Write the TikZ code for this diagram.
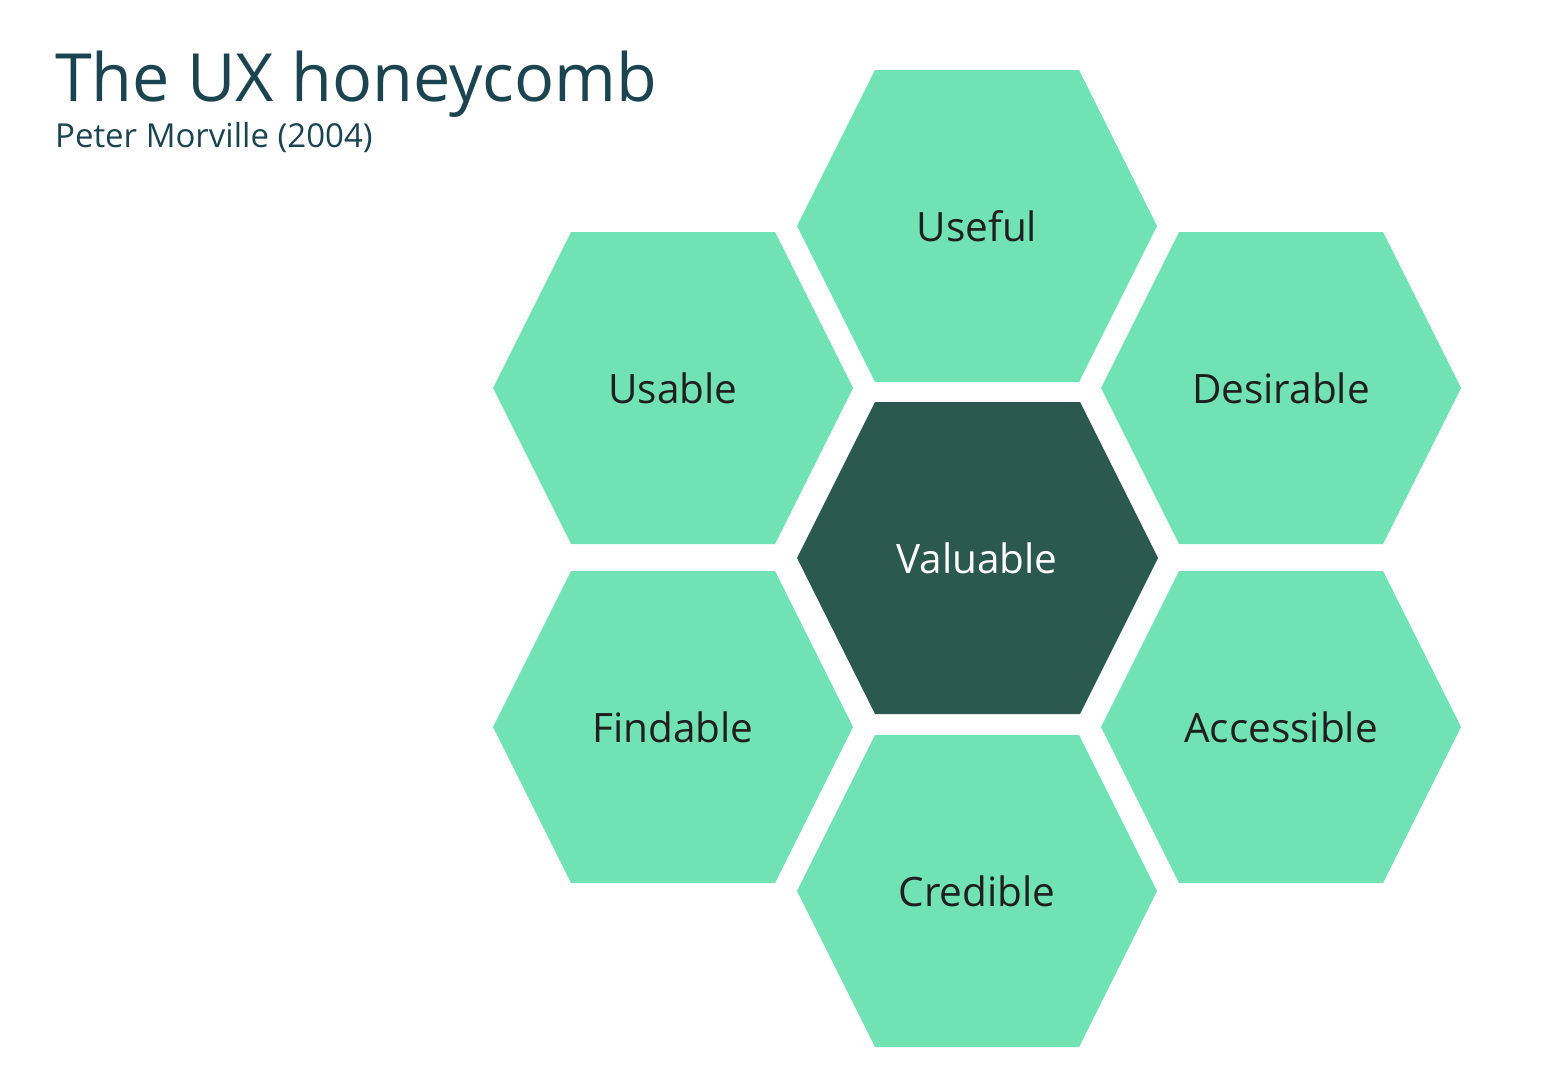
\documentclass[tikz,border=0pt]{standalone}
\usepackage{fontspec}
\setmainfont{Open Sans}
\definecolor{cellgreen}{HTML}{70E2B4}
\definecolor{celldark}{HTML}{2B594F}
\definecolor{titleblue}{HTML}{1B4450}
\begin{document}
\begin{tikzpicture}[x=1pt,y=-1pt,
	cell/.style={fill=cellgreen},
	core/.style={fill=celldark},
	celltext/.style={anchor=base, inner sep=0, font=\fontsize{40.5}{48}\selectfont, text=black!88}]
	\useasboundingbox (0,0) rectangle (1553,1074);
	% title
	\node[anchor=base west, inner sep=0, text=titleblue, font=\fontsize{66.5}{80}\selectfont] (title) at (55,101) {The UX honeycomb};
	\node[anchor=base west, inner sep=0, text=titleblue, font=\fontsize{33}{40}\selectfont] (author) at (55,147) {Peter Morville (2004)};
	% outer cells
	\foreach \x/\y/\name/\lab in {977/226/useful/Useful, 673/388/usable/Usable, 1281/388/desirable/Desirable,
		673/727/findable/Findable, 1281/727/accessible/Accessible, 977/891/credible/Credible}{
		\fill[cell] (\x-180,\y) -- (\x-102,\y-156) -- (\x+102,\y-156) -- (\x+180,\y) -- (\x+102,\y+156) -- (\x-102,\y+156) -- cycle;
		\node[celltext] (\name) at (\x,\y+15) {\lab};
	}
	% centre cell
	\fill[core] (797,558) -- (875,402) -- (1080,402) -- (1158,558) -- (1080,714) -- (875,714) -- cycle;
	\node[celltext, text=white] (valuable) at (977,573) {Valuable};
\end{tikzpicture}
\end{document}
